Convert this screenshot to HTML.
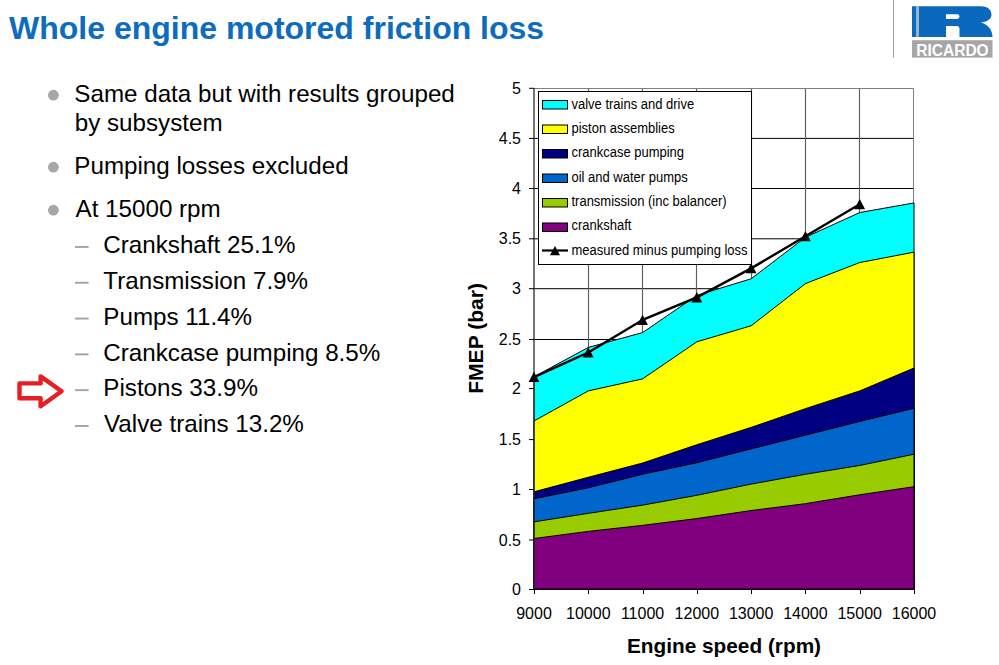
<!DOCTYPE html>
<html><head><meta charset="utf-8"><style>
html,body{margin:0;padding:0;background:#fff;}
body{width:999px;height:665px;overflow:hidden;position:relative;font-family:"Liberation Sans",sans-serif;}
svg{position:absolute;left:0;top:0;}
</style></head><body>
<svg width="999" height="665" viewBox="0 0 999 665">
<text x="9" y="39" font-size="32" font-weight="700" fill="#0D6CBE" font-family="Liberation Sans">Whole engine motored friction loss</text>

<line x1="893.5" y1="0" x2="893.5" y2="57.5" stroke="#A0A0A0" stroke-width="1"/>
<path d="M912,6.2 H981 C988,6.2 991.5,10 991.5,14.8 C991.5,19 987,22 980.5,22.5 C988,24 992.5,30 992.5,36.9 H959.5 V29 Q959.5,26 956.5,26 H946 V36.9 H912 Z M946,14.2 H957 Q959.5,14.2 959.5,16.6 Q959.5,19 957,19 H946 Z" fill="#0A68BD" fill-rule="evenodd"/>
<rect x="916" y="6.2" width="3" height="30.7" fill="#9DB3CC"/>
<rect x="912" y="40.2" width="80.5" height="17.4" fill="#A6A6A9"/>
<text x="952.5" y="55.6" font-size="16" font-weight="700" fill="#fff" text-anchor="middle" font-family="Liberation Sans" textLength="72.4" lengthAdjust="spacingAndGlyphs">RICARDO</text>

<path d="M19.5,383.4 H40.6 V376.4 L61.6,391.3 L40.6,406.3 V398.3 H19.5 Z" fill="none" stroke="#E61E27" stroke-width="4.4" stroke-linejoin="round"/>
<circle cx="53.4" cy="95.2" r="5.4" fill="#A6A6AB"/><text x="74.3" y="101.60" font-size="24.2" font-family="Liberation Sans">Same data but with results grouped</text><text x="74.7" y="130.80" font-size="24.2" font-family="Liberation Sans">by subsystem</text><circle cx="53.4" cy="167.2" r="5.4" fill="#A6A6AB"/><text x="74.3" y="173.90" font-size="24.2" font-family="Liberation Sans">Pumping losses excluded</text><circle cx="53.4" cy="210.2" r="5.4" fill="#A6A6AB"/><text x="75.5" y="216.70" font-size="24.2" font-family="Liberation Sans">At 15000 rpm</text><rect x="75" y="246.00" width="13.6" height="1.9" fill="#A3A3A3"/><text x="103.3" y="253.20" font-size="24.2" font-family="Liberation Sans">Crankshaft 25.1%</text><rect x="75" y="281.80" width="13.6" height="1.9" fill="#A3A3A3"/><text x="103.3" y="289.00" font-size="24.2" font-family="Liberation Sans">Transmission 7.9%</text><rect x="75" y="317.60" width="13.6" height="1.9" fill="#A3A3A3"/><text x="103.3" y="324.80" font-size="24.2" font-family="Liberation Sans">Pumps 11.4%</text><rect x="75" y="353.40" width="13.6" height="1.9" fill="#A3A3A3"/><text x="103.3" y="360.60" font-size="24.2" font-family="Liberation Sans">Crankcase pumping 8.5%</text><rect x="75" y="389.20" width="13.6" height="1.9" fill="#A3A3A3"/><text x="103.3" y="396.40" font-size="24.2" font-family="Liberation Sans">Pistons 33.9%</text><rect x="75" y="425.00" width="13.6" height="1.9" fill="#A3A3A3"/><text x="104" y="432.20" font-size="24.2" font-family="Liberation Sans">Valve trains 13.2%</text>
<line x1="534" y1="540.00" x2="914" y2="540.00" stroke="#000" stroke-width="1"/><line x1="534" y1="489.50" x2="914" y2="489.50" stroke="#000" stroke-width="1"/><line x1="534" y1="439.60" x2="914" y2="439.60" stroke="#000" stroke-width="1"/><line x1="534" y1="388.60" x2="914" y2="388.60" stroke="#000" stroke-width="1"/><line x1="534" y1="339.50" x2="914" y2="339.50" stroke="#000" stroke-width="1"/><line x1="534" y1="288.70" x2="914" y2="288.70" stroke="#000" stroke-width="1"/><line x1="534" y1="238.80" x2="914" y2="238.80" stroke="#000" stroke-width="1"/><line x1="534" y1="188.50" x2="914" y2="188.50" stroke="#000" stroke-width="1"/><line x1="534" y1="138.40" x2="914" y2="138.40" stroke="#000" stroke-width="1"/><line x1="588.50" y1="88" x2="588.50" y2="589" stroke="#5E5E5E" stroke-width="1.15"/><line x1="642.50" y1="88" x2="642.50" y2="589" stroke="#5E5E5E" stroke-width="1.15"/><line x1="696.50" y1="88" x2="696.50" y2="589" stroke="#5E5E5E" stroke-width="1.15"/><line x1="751.50" y1="88" x2="751.50" y2="589" stroke="#5E5E5E" stroke-width="1.15"/><line x1="805.50" y1="88" x2="805.50" y2="589" stroke="#5E5E5E" stroke-width="1.15"/><line x1="859.50" y1="88" x2="859.50" y2="589" stroke="#5E5E5E" stroke-width="1.15"/><path d="M534,88.5 H913.5 V589" fill="none" stroke="#808080" stroke-width="1"/><polygon points="534.00,589.00 534.00,376.78 588.29,347.42 642.57,332.59 696.86,295.41 751.14,278.78 805.43,237.30 859.71,212.55 914.00,202.93 914.00,589.00" fill="#00FFFF" stroke="#000" stroke-width="1" stroke-linejoin="miter"/><polygon points="534.00,589.00 534.00,420.96 588.29,390.90 642.57,378.88 696.86,341.81 751.14,325.77 805.43,283.59 859.71,262.55 914.00,252.13 914.00,589.00" fill="#FFFF00" stroke="#000" stroke-width="1" stroke-linejoin="miter"/><polygon points="534.00,589.00 534.00,491.81 588.29,477.28 642.57,463.05 696.86,444.71 751.14,427.38 805.43,408.64 859.71,390.90 914.00,368.06 914.00,589.00" fill="#000080" stroke="#000" stroke-width="1" stroke-linejoin="miter"/><polygon points="534.00,589.00 534.00,498.82 588.29,487.80 642.57,474.27 696.86,462.75 751.14,448.92 805.43,435.19 859.71,421.47 914.00,408.34 914.00,589.00" fill="#0066CC" stroke="#000" stroke-width="1" stroke-linejoin="miter"/><polygon points="534.00,589.00 534.00,521.87 588.29,513.35 642.57,505.13 696.86,495.31 751.14,484.09 805.43,474.27 859.71,465.45 914.00,454.23 914.00,589.00" fill="#99CC00" stroke="#000" stroke-width="1" stroke-linejoin="miter"/><polygon points="534.00,589.00 534.00,538.50 588.29,531.38 642.57,525.37 696.86,518.56 751.14,510.54 805.43,503.63 859.71,494.81 914.00,486.70 914.00,589.00" fill="#800080" stroke="#000" stroke-width="1" stroke-linejoin="miter"/><path d="M534.0,88 V589" fill="none" stroke="#2A2A2A" stroke-width="1.3"/><path d="M534,589.5 H914" fill="none" stroke="#000" stroke-width="1"/><line x1="529" y1="589.50" x2="534" y2="589.50" stroke="#000" stroke-width="1"/><line x1="529" y1="540.00" x2="534" y2="540.00" stroke="#000" stroke-width="1"/><line x1="529" y1="489.50" x2="534" y2="489.50" stroke="#000" stroke-width="1"/><line x1="529" y1="439.60" x2="534" y2="439.60" stroke="#000" stroke-width="1"/><line x1="529" y1="388.60" x2="534" y2="388.60" stroke="#000" stroke-width="1"/><line x1="529" y1="339.50" x2="534" y2="339.50" stroke="#000" stroke-width="1"/><line x1="529" y1="288.70" x2="534" y2="288.70" stroke="#000" stroke-width="1"/><line x1="529" y1="238.80" x2="534" y2="238.80" stroke="#000" stroke-width="1"/><line x1="529" y1="188.50" x2="534" y2="188.50" stroke="#000" stroke-width="1"/><line x1="529" y1="138.40" x2="534" y2="138.40" stroke="#000" stroke-width="1"/><line x1="529" y1="88.30" x2="534" y2="88.30" stroke="#000" stroke-width="1"/><line x1="534.50" y1="589" x2="534.50" y2="594" stroke="#000" stroke-width="1"/><line x1="588.50" y1="589" x2="588.50" y2="594" stroke="#000" stroke-width="1"/><line x1="643.50" y1="589" x2="643.50" y2="594" stroke="#000" stroke-width="1"/><line x1="697.50" y1="589" x2="697.50" y2="594" stroke="#000" stroke-width="1"/><line x1="751.50" y1="589" x2="751.50" y2="594" stroke="#000" stroke-width="1"/><line x1="805.50" y1="589" x2="805.50" y2="594" stroke="#000" stroke-width="1"/><line x1="860.50" y1="589" x2="860.50" y2="594" stroke="#000" stroke-width="1"/><line x1="914.50" y1="589" x2="914.50" y2="594" stroke="#000" stroke-width="1"/><rect x="538.5" y="91.5" width="213" height="173" fill="#fff" stroke="#000" stroke-width="1"/><rect x="542.5" y="100.50" width="25" height="8.5" fill="#00FFFF" stroke="#000" stroke-width="1"/><text transform="translate(571.5,108.70) scale(1,1.06)" font-size="13" font-family="Liberation Sans">valve trains and drive</text><rect x="542.5" y="125.00" width="25" height="8.5" fill="#FFFF00" stroke="#000" stroke-width="1"/><text transform="translate(571.5,133.05) scale(1,1.06)" font-size="13" font-family="Liberation Sans">piston assemblies</text><rect x="542.5" y="149.50" width="25" height="8.5" fill="#000080" stroke="#000" stroke-width="1"/><text transform="translate(571.5,157.40) scale(1,1.06)" font-size="13" font-family="Liberation Sans">crankcase pumping</text><rect x="542.5" y="174.00" width="25" height="8.5" fill="#0066CC" stroke="#000" stroke-width="1"/><text transform="translate(571.5,181.75) scale(1,1.06)" font-size="13" font-family="Liberation Sans">oil and water pumps</text><rect x="542.5" y="198.50" width="25" height="8.5" fill="#99CC00" stroke="#000" stroke-width="1"/><text transform="translate(571.5,206.10) scale(1,1.06)" font-size="13" font-family="Liberation Sans">transmission (inc balancer)</text><rect x="542.5" y="223.00" width="25" height="8.5" fill="#800080" stroke="#000" stroke-width="1"/><text transform="translate(571.5,230.45) scale(1,1.06)" font-size="13" font-family="Liberation Sans">crankshaft</text><line x1="542" y1="250.50" x2="568" y2="250.50" stroke="#000" stroke-width="2.2"/><polygon points="555,246.10 560,255.20 550,255.20" fill="#000"/><text transform="translate(571.5,254.50) scale(1,1.06)" font-size="13" font-family="Liberation Sans">measured minus pumping loss</text><polyline points="534.00,377.08 588.29,352.53 642.57,319.96 696.86,297.42 751.14,268.36 805.43,236.30 859.71,204.23" fill="none" stroke="#000" stroke-width="2.4" stroke-linejoin="round"/><polygon points="534.00,371.78 539.40,382.08 528.60,382.08" fill="#000"/><polygon points="588.29,347.23 593.69,357.53 582.89,357.53" fill="#000"/><polygon points="642.57,314.66 647.97,324.96 637.17,324.96" fill="#000"/><polygon points="696.86,292.12 702.26,302.42 691.46,302.42" fill="#000"/><polygon points="751.14,263.06 756.54,273.36 745.74,273.36" fill="#000"/><polygon points="805.43,231.00 810.83,241.30 800.03,241.30" fill="#000"/><polygon points="859.71,198.93 865.11,209.23 854.31,209.23" fill="#000"/><text x="521" y="595.10" font-size="16" text-anchor="end" font-family="Liberation Sans">0</text><text x="521" y="545.60" font-size="16" text-anchor="end" font-family="Liberation Sans">0.5</text><text x="521" y="495.10" font-size="16" text-anchor="end" font-family="Liberation Sans">1</text><text x="521" y="445.20" font-size="16" text-anchor="end" font-family="Liberation Sans">1.5</text><text x="521" y="394.20" font-size="16" text-anchor="end" font-family="Liberation Sans">2</text><text x="521" y="345.10" font-size="16" text-anchor="end" font-family="Liberation Sans">2.5</text><text x="521" y="294.30" font-size="16" text-anchor="end" font-family="Liberation Sans">3</text><text x="521" y="244.40" font-size="16" text-anchor="end" font-family="Liberation Sans">3.5</text><text x="521" y="194.10" font-size="16" text-anchor="end" font-family="Liberation Sans">4</text><text x="521" y="144.00" font-size="16" text-anchor="end" font-family="Liberation Sans">4.5</text><text x="521" y="93.90" font-size="16" text-anchor="end" font-family="Liberation Sans">5</text><text x="534.00" y="619" font-size="16" text-anchor="middle" font-family="Liberation Sans">9000</text><text x="588.29" y="619" font-size="16" text-anchor="middle" font-family="Liberation Sans">10000</text><text x="642.57" y="619" font-size="16" text-anchor="middle" font-family="Liberation Sans">11000</text><text x="696.86" y="619" font-size="16" text-anchor="middle" font-family="Liberation Sans">12000</text><text x="751.14" y="619" font-size="16" text-anchor="middle" font-family="Liberation Sans">13000</text><text x="805.43" y="619" font-size="16" text-anchor="middle" font-family="Liberation Sans">14000</text><text x="859.71" y="619" font-size="16" text-anchor="middle" font-family="Liberation Sans">15000</text><text x="914.00" y="619" font-size="16" text-anchor="middle" font-family="Liberation Sans">16000</text><text x="724" y="652.5" font-size="20.8" font-weight="700" text-anchor="middle" font-family="Liberation Sans">Engine speed (rpm)</text><text transform="translate(483.4,338.4) rotate(-90)" x="0" y="0" font-size="21.1" font-weight="700" text-anchor="middle" font-family="Liberation Sans">FMEP (bar)</text>
</svg>
</body></html>
